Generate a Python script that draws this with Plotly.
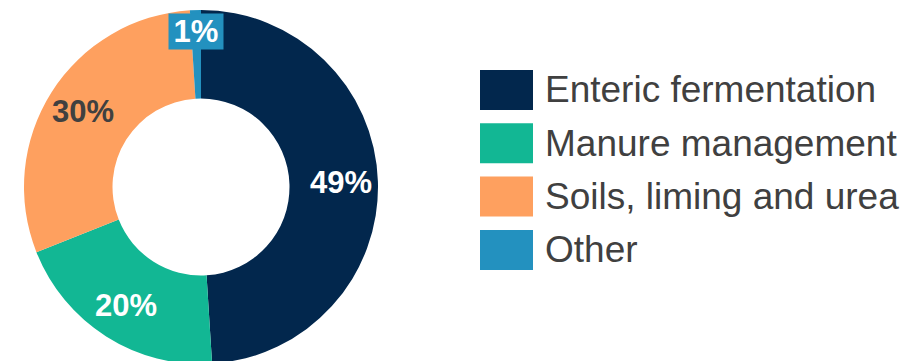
import math
import plotly.graph_objects as go

# Emission sources and their shares (%)
categories = ["Enteric fermentation", "Manure management", "Soils, liming and urea", "Other"]
shares = [49, 20, 30, 1]

# Styling
colors = ["#02274d", "#12b794", "#fea05f", "#2391bf"]
label_colors = ["#ffffff", "#ffffff", "#404040", "#ffffff"]
label_bg = [None, None, None, "#2391bf"]
label_radius_px = [140, 140, 140, 155.5]

W, H = 907, 368
cx, cy, R = 201, 187, 177  # donut centre / outer radius in pixels (from top-left)


def px_to_paper(x, y):
    return x / W, 1 - y / H


fig = go.Figure(
    go.Pie(
        labels=categories,
        values=shares,
        marker=dict(colors=colors, line=dict(width=0)),
        hole=0.5,
        sort=False,
        direction="clockwise",
        rotation=0,
        textinfo="none",
        hoverinfo="label+percent",
        showlegend=False,
        domain=dict(
            x=[(cx - R) / W, (cx + R) / W],
            y=[(H - (cy + R)) / H, (H - (cy - R)) / H],
        ),
    )
)

# Percentage labels placed at each slice's mid-angle
total = sum(shares)
cum = 0
annotations = []
for val, fc, bg, rl in zip(shares, label_colors, label_bg, label_radius_px):
    mid = (cum + val / 2) / total * 2 * math.pi
    cum += val
    x = cx + rl * math.sin(mid)
    y = cy - rl * math.cos(mid)
    px, py = px_to_paper(x, y)
    ann = dict(
        x=px, y=py, xref="paper", yref="paper",
        text=f"<b>{val}%</b>", showarrow=False,
        font=dict(family="Liberation Sans, Arial, sans-serif", size=31, color=fc),
        xanchor="center", yanchor="middle",
    )
    if bg:
        ann.update(bgcolor=bg, borderpad=1, width=52, height=33)
    annotations.append(ann)

# Custom legend with large swatches
shapes = []
sw_x0, sw_x1 = 480, 533
row_top, row_pitch, sw_h = 70, 53.3, 40
for i, (name, col) in enumerate(zip(categories, colors)):
    top = row_top + i * row_pitch
    x0, y0 = px_to_paper(sw_x0, top + sw_h)
    x1, y1 = px_to_paper(sw_x1, top)
    shapes.append(dict(type="rect", xref="paper", yref="paper",
                       x0=x0, y0=y0, x1=x1, y1=y1,
                       fillcolor=col, line=dict(width=0)))
    tx, ty = px_to_paper(543, top + sw_h / 2)
    annotations.append(dict(
        x=tx, y=ty, xref="paper", yref="paper", text=name, showarrow=False,
        xanchor="left", yanchor="middle",
        font=dict(family="Liberation Sans, Arial, sans-serif", size=37, color="#404040"),
    ))

fig.update_layout(
    width=W, height=H,
    margin=dict(l=0, r=0, t=0, b=0),
    paper_bgcolor="white",
    plot_bgcolor="white",
    annotations=annotations,
    shapes=shapes,
)

fig.write_html("out.html", post_script="document.body.style.overflow='hidden';document.body.style.margin='0';")
